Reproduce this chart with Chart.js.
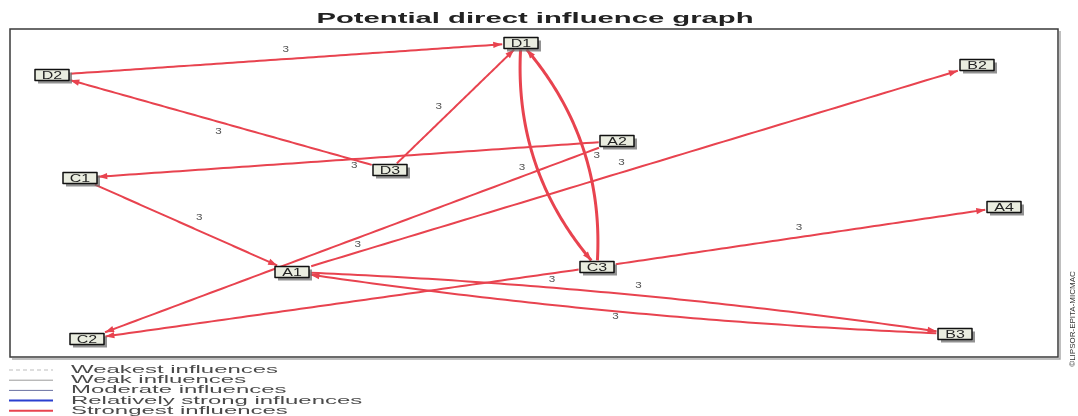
<!DOCTYPE html>
<html><head><meta charset="utf-8">
<script src="https://cdn.jsdelivr.net/npm/chart.js@4.4.1/dist/chart.umd.min.js"></script>
<style>html,body{margin:0;padding:0;background:#fff;overflow:hidden}canvas{display:block}</style>
</head><body>
<canvas id="c" width="1078" height="416"></canvas>
<script>
// ---- data ----
const chartTitle = 'Potential direct influence graph';
const nodeNames = ['D1','D2','D3','C1','A2','B2','A4','C3','B3','A1','C2'];
const nodeX = [521, 52, 390, 80, 617, 977, 1004, 597, 955, 292, 87];
const nodeY = [43, 75, 170, 178, 141, 65, 207, 267, 334, 272, 339];
const edgeFrom = ['D2','D3','D3','D1','C3','A2','C1','A1','A2','C3','C3','A1','B3'];
const edgeTo   = ['D1','D2','D1','C3','D1','C1','A1','B2','C2','A4','C2','B3','A1'];
const edgeValue = [3,3,3,3,3,3,3,3,3,3,3,3,3];
const legendLabels = ['Weakest influences','Weak influences','Moderate influences','Relatively strong influences','Strongest influences'];
const copyrightText = '\u00A9LIPSOR-EPITA-MICMAC';

// ---- styles / placement ----
const edgeBend  = [0,0,0,50,50,0,0,0,0,0,0,-18,-18];
const edgeWidth = [2,2,2,3,3,2,2,2,2,2,2,2,2];
const labelT    = [0.5,0.5,0.435,0.5,0.45,0.49,0.54,0.485,0.493,0.5,0.09,0.52,0.51];
const labelOff  = [-10,-9,-12,14,11,-6,-12,-9,-6,-10,-6,-10,-5];
const legendColors = ['#bdbdbd','#9a9a9a','#6a70a0','#2a3fd0','#e8434f'];
const legendDash = [[4,3],[],[],[],[]];
const legendLW = [1,1,1,2,2];
const RED = '#e8434f';
const FONT = '"Liberation Sans", Arial, sans-serif';

function stretchText(ctx, text, x, y, sx, align){
  ctx.save();
  ctx.translate(x, y);
  ctx.scale(sx, 1);
  ctx.textAlign = align || 'center';
  ctx.fillText(text, 0, 0);
  ctx.restore();
}

const graphPlugin = {
  id: 'graph',
  afterDraw(chart){
    const ctx = chart.ctx, xs = chart.scales.x, ys = chart.scales.y, a = chart.chartArea;
    const idx = n => nodeNames.indexOf(n);
    const P = i => ({x: xs.getPixelForValue(nodeX[i]), y: ys.getPixelForValue(nodeY[i])});
    const HW = 18, HH = 6.5;

    ctx.save();
    // frame
    ctx.strokeStyle = '#aaa'; ctx.lineWidth = 1.5;
    ctx.beginPath(); ctx.moveTo(a.right+2, a.top+2); ctx.lineTo(a.right+2, a.bottom+2); ctx.lineTo(a.left+2, a.bottom+2); ctx.stroke();
    ctx.strokeStyle = '#3a3a3a'; ctx.lineWidth = 1.5;
    ctx.strokeRect(a.left, a.top, a.right - a.left, a.bottom - a.top);

    // title
    ctx.fillStyle = '#222';
    ctx.font = 'bold 14px ' + FONT;
    ctx.textBaseline = 'middle';
    const tw = ctx.measureText(chartTitle).width;
    stretchText(ctx, chartTitle, (a.left + a.right) / 2 + 1, 19, 437 / tw, 'center');

    // edges
    for (let e = 0; e < edgeFrom.length; e++){
      const s = P(idx(edgeFrom[e])), t = P(idx(edgeTo[e]));
      const dx = t.x - s.x, dy = t.y - s.y, L = Math.hypot(dx, dy);
      const ux = dx / L, uy = dy / L, nx = -uy, ny = ux;
      const c = {x: (s.x + t.x)/2 + nx*edgeBend[e], y: (s.y + t.y)/2 + ny*edgeBend[e]};
      const pt = u => ({x:(1-u)*(1-u)*s.x + 2*u*(1-u)*c.x + u*u*t.x, y:(1-u)*(1-u)*s.y + 2*u*(1-u)*c.y + u*u*t.y});
      const inBox = (p, b) => Math.abs(p.x - b.x) <= HW && Math.abs(p.y - b.y) <= HH;
      let t0 = 0; while (t0 < 0.5 && inBox(pt(t0), s)) t0 += 0.002;
      let t1 = 1; while (t1 > 0.5 && inBox(pt(t1), t)) t1 -= 0.002;
      ctx.strokeStyle = RED; ctx.lineWidth = edgeWidth[e]; ctx.lineJoin = 'round';
      ctx.beginPath();
      const N = 80;
      for (let k = 0; k <= N; k++){
        const p = pt(t0 + (t1 - t0) * k / N);
        if (k === 0) ctx.moveTo(p.x, p.y); else ctx.lineTo(p.x, p.y);
      }
      ctx.stroke();
      // arrow head
      const tip = pt(t1), prev = pt(t1 - 0.01);
      let ax = tip.x - prev.x, ay = tip.y - prev.y; const al = Math.hypot(ax, ay); ax /= al; ay /= al;
      const len = 9, w = 3.2;
      ctx.fillStyle = RED;
      ctx.beginPath();
      ctx.moveTo(tip.x, tip.y);
      ctx.lineTo(tip.x - ax*len - ay*w, tip.y - ay*len + ax*w);
      ctx.lineTo(tip.x - ax*len + ay*w, tip.y - ay*len - ax*w);
      ctx.closePath(); ctx.fill();
      // value label
      const lt = labelT[e], lp = pt(lt);
      const tgx = 2*(1-lt)*(c.x - s.x) + 2*lt*(t.x - c.x), tgy = 2*(1-lt)*(c.y - s.y) + 2*lt*(t.y - c.y);
      const tl = Math.hypot(tgx, tgy), lnx = -tgy/tl, lny = tgx/tl;
      ctx.fillStyle = '#555';
      ctx.font = '9px ' + FONT;
      ctx.textBaseline = 'middle';
      stretchText(ctx, String(edgeValue[e]), lp.x + lnx*labelOff[e], lp.y + lny*labelOff[e], 1.3, 'center');
    }

    // nodes
    for (let i = 0; i < nodeNames.length; i++){
      const p = P(i);
      ctx.fillStyle = 'rgba(110,110,110,0.75)';
      ctx.fillRect(p.x - 17 + 3, p.y - 5.5 + 3, 34, 11);
      ctx.fillStyle = '#eaede0';
      ctx.fillRect(p.x - 17, p.y - 5.5, 34, 11);
      ctx.strokeStyle = '#111'; ctx.lineWidth = 1.5;
      ctx.strokeRect(p.x - 17, p.y - 5.5, 34, 11);
      ctx.fillStyle = '#222';
      ctx.font = '11px ' + FONT;
      ctx.textBaseline = 'middle';
      stretchText(ctx, nodeNames[i], p.x, p.y + 0.5, 1.45, 'center');
    }

    // legend
    ctx.font = '11px ' + FONT;
    const lw0 = ctx.measureText(legendLabels[0]).width;
    const lsx = 207 / lw0;
    for (let j = 0; j < legendLabels.length; j++){
      const y = 370 + j * 10.2;
      ctx.strokeStyle = legendColors[j]; ctx.lineWidth = legendLW[j];
      ctx.setLineDash(legendDash[j]);
      ctx.beginPath(); ctx.moveTo(9, y); ctx.lineTo(53, y); ctx.stroke();
      ctx.setLineDash([]);
      ctx.fillStyle = '#4a4a4a';
      ctx.textBaseline = 'middle';
      stretchText(ctx, legendLabels[j], 71, y, lsx, 'left');
    }

    // vertical copyright text
    ctx.save();
    ctx.translate(1073, 319);
    ctx.rotate(-Math.PI/2);
    ctx.font = '8px ' + FONT;
    ctx.fillStyle = '#333';
    ctx.textAlign = 'center'; ctx.textBaseline = 'middle';
    ctx.fillText(copyrightText, 0, 0);
    ctx.restore();

    ctx.restore();
  }
};

new Chart(document.getElementById('c'), {
  type: 'scatter',
  data: { datasets: [{ label: 'Variables', data: nodeNames.map((n, i) => ({x: nodeX[i], y: nodeY[i]})), pointRadius: 0, pointHoverRadius: 0 }] },
  options: {
    responsive: false, animation: false, devicePixelRatio: 1,
    layout: { padding: { left: 10, top: 29, right: 20, bottom: 59 } },
    scales: {
      x: { type: 'linear', min: 10, max: 1058, display: false },
      y: { type: 'linear', min: 29, max: 357, reverse: true, display: false }
    },
    plugins: { legend: { display: false }, tooltip: { enabled: false }, title: { display: false } },
    events: []
  },
  plugins: [graphPlugin]
});
</script>
</body></html>
